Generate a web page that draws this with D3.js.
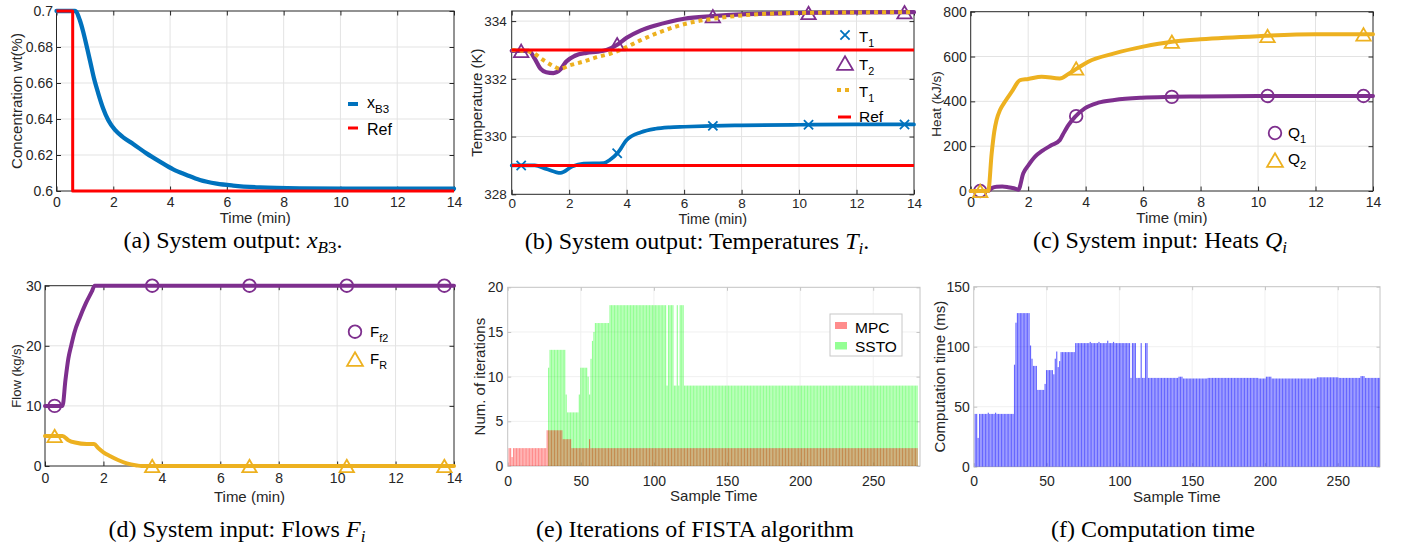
<!DOCTYPE html>
<html><head><meta charset="utf-8">
<script src="https://cdn.jsdelivr.net/npm/d3@7"></script>
<style>
body{margin:0;background:#fff}
svg{display:block}
text{font-family:"Liberation Sans",Arial,Helvetica,sans-serif}
.cap{font-family:"Liberation Serif","Times New Roman",serif;fill:#000}
</style>
</head><body>
<svg id="c" width="1407" height="548"></svg>
<script>
// ---------------- DATA ----------------
const timeTicks = [0, 2, 4, 6, 8, 10, 12, 14];
const timeTickLabels = ["0", "2", "4", "6", "8", "10", "12", "14"];
const markerTimes = [0.33, 3.67, 7.0, 10.33, 13.67];

// (a) concentration
const concTicks = [0.6, 0.62, 0.64, 0.66, 0.68, 0.7];
const concTickLabels = ["0.6", "0.62", "0.64", "0.66", "0.68", "0.7"];
const xB3Time   = [0, 0.65, 0.82, 0.94, 1.08, 1.2, 1.32, 1.47, 1.64, 1.82, 2.06, 2.35, 2.7, 3.17, 3.64, 4.11, 4.58, 5.05, 5.64, 6.22, 7.16, 8.57, 10.9, 14];
const xB3Values = [0.7, 0.7, 0.695, 0.6885, 0.6793, 0.671, 0.6626, 0.6543, 0.646, 0.6394, 0.6339, 0.6298, 0.6261, 0.6209, 0.6163, 0.612, 0.6089, 0.6061, 0.6041, 0.603, 0.602, 0.6015, 0.6013, 0.6013];
const refATime   = [0, 0.57, 0.57, 14];
const refAValues = [0.7, 0.7, 0.6, 0.6];

// (b) temperatures
const tempTicks = [328, 330, 332, 334];
const tempTickLabels = ["328", "330", "332", "334"];
const t1Time   = [0, 0.8, 1.2, 1.7, 2.1, 2.5, 3.2, 3.4, 3.7, 4.0, 4.5, 5.0, 5.5, 6, 7, 8, 10, 12, 14];
const t1Values = [329.0, 329.0, 328.88, 328.74, 328.96, 329.06, 329.08, 329.18, 329.45, 329.88, 330.15, 330.27, 330.32, 330.34, 330.37, 330.39, 330.41, 330.42, 330.42];
const t1Markers = [329.0, 329.42, 330.37, 330.41, 330.42];
const t2Time   = [0, 0.6, 0.8, 1.0, 1.2, 1.45, 1.7, 1.9, 2.2, 2.6, 3.0, 3.3, 3.7, 4.0, 4.5, 5.0, 5.5, 6.0, 7.0, 8.0, 10, 12, 14];
const t2Values = [332.97, 332.97, 332.7, 332.35, 332.23, 332.2, 332.33, 332.6, 332.8, 332.9, 332.94, 333.0, 333.2, 333.42, 333.68, 333.85, 333.98, 334.08, 334.17, 334.23, 334.28, 334.3, 334.31];
const t2Markers = [332.97, 333.2, 334.17, 334.28, 334.31];
const t3Time   = [0, 0.64, 1.1, 1.45, 1.68, 2.03, 2.5, 2.96, 3.42, 3.89, 4.47, 5.16, 5.74, 6.32, 7.0, 8.06, 9.8, 12, 14];
const t3Values = [333.0, 332.94, 332.65, 332.44, 332.35, 332.47, 332.6, 332.75, 332.87, 333.05, 333.33, 333.62, 333.82, 333.97, 334.08, 334.2, 334.28, 334.3, 334.31];
const refB1Time = [0, 14], refB1Values = [333, 333];
const refB2Time = [0, 14], refB2Values = [329, 329];

// (c) heats
const heatTicks = [0, 200, 400, 600, 800];
const heatTickLabels = ["0", "200", "400", "600", "800"];
const q1Time   = [0, 0.6, 0.75, 0.9, 1.1, 1.3, 1.5, 1.66, 1.83, 2.0, 2.24, 2.5, 2.82, 3.1, 3.2, 3.4, 3.63, 3.97, 4.44, 5.0, 5.95, 7.0, 8, 10, 12, 14];
const q1Values = [0, 0, 14, 19, 20, 17, 12, 6, 79, 113, 153, 180, 205, 227, 250, 294, 331, 369, 394, 406, 416, 420, 422, 424, 424, 424];
const q1Markers = [0, 334, 420, 424, 424];
const q2Time   = [0, 0.61, 0.73, 0.82, 0.9, 1.02, 1.19, 1.43, 1.72, 2.0, 2.47, 3.1, 3.4, 3.7, 4.09, 5.0, 6.0, 7.0, 8.0, 10, 12, 14];
const q2Values = [0, 0, 168, 265, 317, 361, 398, 443, 495, 500, 510, 502, 522, 547, 577, 614, 644, 666, 677, 691, 699, 699];
const q2Markers = [0, 547, 666, 692, 699];

// (d) flows
const flowTicks = [0, 10, 20, 30];
const flowTickLabels = ["0", "10", "20", "30"];
const ff2Time   = [0, 0.6, 0.7, 0.8, 0.9, 1.0, 1.2, 1.4, 1.6, 1.7, 14];
const ff2Values = [10, 10, 14.3, 17.9, 20.1, 22.1, 24.8, 27.1, 29.0, 30, 30];
const ff2Markers = [10, 30, 30, 30, 30];
const frTime   = [0, 0.6, 0.8, 1.03, 1.43, 1.68, 1.83, 2.0, 2.22, 2.5, 2.8, 3.14, 3.3, 14];
const frValues = [5, 5, 4.3, 3.9, 3.66, 3.66, 2.94, 2.27, 1.66, 1.0, 0.44, 0.1, 0, 0];
const frMarkers = [5, 0, 0, 0, 0];

// (e) iterations per sample (run-length: [value, count]), samples 1..280
const sampleTicks = [0, 50, 100, 150, 200, 250];
const sampleTickLabels = ["0", "50", "100", "150", "200", "250"];
const iterTicks = [0, 5, 10, 15, 20];
const iterTickLabels = ["0", "5", "10", "15", "20"];
const mpcRuns = [[2,2],[1,1],[2,23],[4,11],[3,6],[2,12],[3,1],[2,224]];
const sstoRuns = [[0,27],[11,1],[13,11],[8,1],[6,8],[8,1],[11,5],[10,1],[8,1],[12,1],[14,1],[15,1],[16,10],[18,39],[9,1],[18,4],[9,2],[18,1],[9,1],[18,3],[9,160]];

// (f) computation time (ms), run-length
const compTicks = [0, 50, 100, 150];
const compTickLabels = ["0", "50", "100", "150"];
const compRuns = [[44,2],[24,1],[44,6],[45,1],[44,4],[45,1],[44,12],[85,1],[120,1],[128,9],[101,1],[90,1],[84,3],[64,5],[69,1],[80.5,5],[77,1],[90,1],[96,1],[83,1],[88,1],[95.5,10],
  [103,10],[104,1],[103,5],[104,1],[103,5],[105,1],[103,3],[104,1],[103,11],[74,1],[103,3],[74,3],[103,1],[74,2],[103,2],
  [74,21],[75,3],[73.5,17],[74,35],[73.5,5],[75,4],[73.5,31],[74.5,15],[74,15],[75.5,3],[74,12]];

// ---------------- DRAWING ----------------
const C_BLUE = "#0072BD", C_RED = "#FF0000", C_PURPLE = "#7E2F8E", C_YELLOW = "#EDB120";
const svg = d3.select("#c");

function expand(runs) { const out = []; runs.forEach(([v, n]) => { for (let k = 0; k < n; k++) out.push(v); }); return out; }

function panel(o) {
  const g = svg.append("g");
  const x = d3.scaleLinear().domain(o.xDomain).range([o.left, o.right]);
  const y = d3.scaleLinear().domain(o.yDomain).range([o.bottom, o.top]);
  g.append("g").selectAll("line").data(o.xTicks.filter(d => x(d) > o.left + 1 && x(d) < o.right - 1)).join("line")
    .attr("x1", d => x(d)).attr("x2", d => x(d)).attr("y1", o.top).attr("y2", o.bottom)
    .attr("stroke", o.gridColor).attr("stroke-width", 1);
  g.append("g").selectAll("line").data(o.yTicks.filter(d => y(d) > o.top + 1 && y(d) < o.bottom - 1)).join("line")
    .attr("y1", d => y(d)).attr("y2", d => y(d)).attr("x1", o.left).attr("x2", o.right)
    .attr("stroke", o.gridColor).attr("stroke-width", 1);
  const fs = o.tickFont, tl = o.tickLen;
  const font = "'Liberation Sans', Arial, sans-serif";
  const style = sel => { sel.attr("font-size", fs).attr("font-family", font).attr("color", o.axisColor);
    sel.select(".domain").remove(); sel.selectAll("text").attr("fill", "#262626"); };
  g.append("g").attr("transform", `translate(0,${o.bottom})`)
    .call(d3.axisBottom(x).tickValues(o.xTicks).tickFormat((d, i) => o.xTickLabels[i]).tickSizeInner(-tl).tickSizeOuter(0).tickPadding(o.xTickBase - o.bottom - 0.71 * fs)).call(style);
  g.append("g").attr("transform", `translate(${o.left},0)`)
    .call(d3.axisLeft(y).tickValues(o.yTicks).tickFormat((d, i) => o.yTickLabels[i]).tickSizeInner(-tl).tickSizeOuter(0).tickPadding(o.yPad)).call(style);
  g.append("g").attr("transform", `translate(0,${o.top})`)
    .call(d3.axisTop(x).tickValues(o.xTicks).tickFormat(() => "").tickSizeInner(-tl).tickSizeOuter(0)).call(style);
  g.append("g").attr("transform", `translate(${o.right},0)`)
    .call(d3.axisRight(y).tickValues(o.yTicks).tickFormat(() => "").tickSizeInner(-tl).tickSizeOuter(0)).call(style);
  g.append("rect").attr("x", o.left).attr("y", o.top).attr("width", o.right - o.left).attr("height", o.bottom - o.top)
    .attr("fill", "none").attr("stroke", o.axisColor).attr("stroke-width", 1);
  g.append("text").attr("x", (o.left + o.right) / 2).attr("y", o.xLabelBase).attr("text-anchor", "middle")
    .attr("font-size", o.xLabelFont || o.labelFont).attr("fill", "#262626").text(o.xLabel);
  g.append("text").attr("transform", `translate(${o.yLabelX},${o.yLabelY !== undefined ? o.yLabelY : (o.top + o.bottom) / 2}) rotate(-90)`)
    .attr("text-anchor", "middle").attr("dominant-baseline", "central")
    .attr("font-size", o.yLabelFont || o.labelFont).attr("fill", "#262626").text(o.yLabel);
  return { g, x, y };
}

function linePath(p, t, v, color, width, curve, dash) {
  const idx = d3.range(t.length);
  const path = p.g.append("path").datum(idx)
    .attr("d", d3.line().x(i => p.x(t[i])).y(i => p.y(v[i])).curve(curve || d3.curveMonotoneX))
    .attr("fill", "none").attr("stroke", color).attr("stroke-width", width).attr("stroke-linejoin", "round");
  if (dash) path.attr("stroke-dasharray", dash); else path.attr("stroke-linecap", "round");
  return path;
}

function marker(g, kind, cx, cy, color, s) {
  s = s || 1;
  if (kind === "circle") {
    g.append("circle").attr("cx", cx).attr("cy", cy).attr("r", 6.3 * s).attr("fill", "none").attr("stroke", color).attr("stroke-width", 1.8);
  } else if (kind === "tri") {
    const w = 7.2 * s, h = 6.2 * s;
    g.append("path").attr("d", `M${cx},${cy - h}L${cx + w},${cy + h}L${cx - w},${cy + h}Z`)
      .attr("fill", "none").attr("stroke", color).attr("stroke-width", 1.8).attr("stroke-linejoin", "miter");
  } else if (kind === "x") {
    const r = 4.6 * s;
    g.append("path").attr("d", `M${cx - r},${cy - r}L${cx + r},${cy + r}M${cx - r},${cy + r}L${cx + r},${cy - r}`)
      .attr("fill", "none").attr("stroke", color).attr("stroke-width", 1.8);
  }
}
function markers(p, kind, times, vals, color) {
  times.forEach((t, i) => marker(p.g, kind, p.x(t), p.y(vals[i]), color));
}

function legText(g, x, y, main, sub, fs, subDy) {
  const t = g.append("text").attr("x", x).attr("y", y).attr("font-size", fs).attr("fill", "#000");
  t.append("tspan").text(main);
  if (sub) t.append("tspan").attr("dy", subDy || fs * 0.35).attr("font-size", fs * 0.72).text(sub);
}

const common = { gridColor: "#e3e3e3", axisColor: "#262626", tickLen: 4.5 };

// ---- (a)
const pA = panel(Object.assign({}, common, {
  left: 56.5, right: 454, top: 11, bottom: 191, xDomain: [0, 14], yDomain: [0.6, 0.7],
  xTicks: timeTicks, xTickLabels: timeTickLabels, yTicks: concTicks, yTickLabels: concTickLabels,
  tickFont: 14, labelFont: 15, xTickBase: 207, xLabelBase: 223, yPad: 3.5, yLabelX: 16,
  xLabel: "Time (min)", yLabel: "Concentration wt(%)"
}));
linePath(pA, xB3Time, xB3Values, C_BLUE, 4.3);
linePath(pA, refATime, refAValues, C_RED, 3, d3.curveLinear).attr("stroke-linecap", "butt");
pA.g.append("line").attr("x1", 348).attr("x2", 358).attr("y1", 104).attr("y2", 104).attr("stroke", C_BLUE).attr("stroke-width", 4);
legText(pA.g, 367, 108, "x", "B3", 16, 5);
pA.g.append("line").attr("x1", 348).attr("x2", 358).attr("y1", 128).attr("y2", 128).attr("stroke", C_RED).attr("stroke-width", 3);
legText(pA.g, 367, 134.5, "Ref", null, 16);

// ---- (b)
const pB = panel(Object.assign({}, common, {
  left: 511.7, right: 914, top: 11, bottom: 194.3, xDomain: [0, 14], yDomain: [328, 334.35],
  xTicks: timeTicks, xTickLabels: timeTickLabels, yTicks: tempTicks, yTickLabels: tempTickLabels,
  tickFont: 13.5, labelFont: 15, xLabelFont: 14.5, xTickBase: 208, xLabelBase: 224, yPad: 5, yLabelX: 476,
  xLabel: "Time (min)", yLabel: "Temperature (K)"
}));
linePath(pB, t1Time, t1Values, C_BLUE, 3.7);
markers(pB, "x", markerTimes, t1Markers, C_BLUE);
linePath(pB, t2Time, t2Values, C_PURPLE, 4.2);
markers(pB, "tri", markerTimes, t2Markers, C_PURPLE);
linePath(pB, t3Time, t3Values, C_YELLOW, 4, d3.curveMonotoneX, "4,4");
linePath(pB, refB1Time, refB1Values, C_RED, 3, d3.curveLinear).attr("stroke-linecap", "butt");
linePath(pB, refB2Time, refB2Values, C_RED, 3, d3.curveLinear).attr("stroke-linecap", "butt");
marker(pB.g, "x", 845, 35, C_BLUE);
legText(pB.g, 859, 42, "T", "1", 15, 5);
marker(pB.g, "tri", 845, 63, C_PURPLE, 1.1);
legText(pB.g, 859, 70, "T", "2", 15, 5);
pB.g.append("line").attr("x1", 837).attr("x2", 853).attr("y1", 90).attr("y2", 90).attr("stroke", C_YELLOW).attr("stroke-width", 4).attr("stroke-dasharray", "4,4");
legText(pB.g, 859, 97, "T", "1", 15, 5);
pB.g.append("line").attr("x1", 838).attr("x2", 851).attr("y1", 117).attr("y2", 117).attr("stroke", C_RED).attr("stroke-width", 3);
legText(pB.g, 859, 122, "Ref", null, 15.5);

// ---- (c)
const pC = panel(Object.assign({}, common, {
  left: 970.7, right: 1373, top: 11.7, bottom: 191, xDomain: [0, 14], yDomain: [0, 800],
  xTicks: timeTicks, xTickLabels: timeTickLabels, yTicks: heatTicks, yTickLabels: heatTickLabels,
  tickFont: 14, labelFont: 15, yLabelFont: 13.5, xTickBase: 207, xLabelBase: 223, yPad: 4, yLabelX: 936, yLabelY: 104,
  xLabel: "Time (min)", yLabel: "Heat (kJ/s)"
}));
linePath(pC, q1Time, q1Values, C_PURPLE, 4);
markers(pC, "circle", markerTimes, q1Markers, C_PURPLE);
linePath(pC, q2Time, q2Values, C_YELLOW, 4);
markers(pC, "tri", markerTimes, q2Markers, C_YELLOW);
marker(pC.g, "circle", 1275, 133, C_PURPLE);
legText(pC.g, 1288, 137.5, "Q", "1", 15.5, 5);
marker(pC.g, "tri", 1275, 160, C_YELLOW, 1.1);
legText(pC.g, 1288, 164, "Q", "2", 15.5, 5);

// ---- (d)
const pD = panel(Object.assign({}, common, {
  left: 45, right: 454, top: 285.7, bottom: 466, xDomain: [0, 14], yDomain: [0, 30],
  xTicks: timeTicks, xTickLabels: timeTickLabels, yTicks: flowTicks, yTickLabels: flowTickLabels,
  tickFont: 14, labelFont: 15, yLabelFont: 13, xTickBase: 483, xLabelBase: 502, yPad: 3.5, yLabelX: 16,
  xLabel: "Time (min)", yLabel: "Flow (kg/s)"
}));
linePath(pD, ff2Time, ff2Values, C_PURPLE, 4);
markers(pD, "circle", markerTimes, ff2Markers, C_PURPLE);
linePath(pD, frTime, frValues, C_YELLOW, 4);
markers(pD, "tri", markerTimes, frMarkers, C_YELLOW);
marker(pD.g, "circle", 355, 331.7, C_PURPLE);
legText(pD.g, 370, 337, "F", "f2", 15, 5);
marker(pD.g, "tri", 355, 359, C_YELLOW, 1.1);
legText(pD.g, 370, 364, "F", "R", 15, 5);

// ---- (e)
const soft = { gridColor: "#f0f0f0", axisColor: "#c4c4c4", tickLen: 3.5 };
const pE = panel(Object.assign({}, soft, {
  left: 507.7, right: 920, top: 287.3, bottom: 466, xDomain: [0, 282], yDomain: [0, 20],
  xTicks: sampleTicks, xTickLabels: sampleTickLabels, yTicks: iterTicks, yTickLabels: iterTickLabels,
  tickFont: 14, labelFont: 15, xTickBase: 486, xLabelBase: 501, yPad: 4.4, yLabelX: 479,
  xLabel: "Sample Time", yLabel: "Num. of iterations"
}));
const sstoVals = expand(sstoRuns), mpcVals = expand(mpcRuns);
const bw = 0.8;
pE.g.append("g").selectAll("rect").data(sstoVals.map((v, i) => [i + 1, v]).filter(d => d[1] > 0)).join("rect")
  .attr("x", d => pE.x(d[0] - bw / 2)).attr("width", pE.x(bw) - pE.x(0))
  .attr("y", d => pE.y(d[1])).attr("height", d => pE.y(0) - pE.y(d[1]))
  .attr("fill", "#00ff00").attr("fill-opacity", 0.42);
pE.g.append("g").selectAll("rect").data(mpcVals.map((v, i) => [i + 1, v])).join("rect")
  .attr("x", d => pE.x(d[0] - bw / 2)).attr("width", pE.x(bw) - pE.x(0))
  .attr("y", d => pE.y(d[1])).attr("height", d => pE.y(0) - pE.y(d[1]))
  .attr("fill", "#ff0000").attr("fill-opacity", 0.45);
pE.g.append("rect").attr("x", 830).attr("y", 314).attr("width", 72).attr("height", 42).attr("fill", "#fff").attr("stroke", "#c8c8c8");
pE.g.append("rect").attr("x", 835).attr("y", 322).attr("width", 12).attr("height", 7).attr("fill", "#ff0000").attr("fill-opacity", 0.45);
pE.g.append("rect").attr("x", 835).attr("y", 342).attr("width", 12).attr("height", 7.5).attr("fill", "#00ff00").attr("fill-opacity", 0.42);
legText(pE.g, 855, 332.5, "MPC", null, 15.5);
legText(pE.g, 855, 352, "SSTO", null, 15.5);

// ---- (f)
const pF = panel(Object.assign({}, soft, {
  left: 973.75, right: 1380, top: 286.7, bottom: 466.7, xDomain: [0, 279], yDomain: [0, 150],
  xTicks: sampleTicks, xTickLabels: sampleTickLabels, yTicks: compTicks, yTickLabels: compTickLabels,
  tickFont: 14, labelFont: 15, xTickBase: 486, xLabelBase: 502, yPad: 4, yLabelX: 939,
  xLabel: "Sample Time", yLabel: "Computation time (ms)"
}));
const compVals = expand(compRuns);
svg.append("clipPath").attr("id", "clipF").append("rect").attr("x", 973.75).attr("y", 280).attr("width", 1380 - 973.75).attr("height", 190);
pF.g.append("g").attr("clip-path", "url(#clipF)").selectAll("rect").data(compVals.map((v, i) => [i + 1, v])).join("rect")
  .attr("x", d => pF.x(d[0] - bw / 2)).attr("width", pF.x(bw) - pF.x(0))
  .attr("y", d => pF.y(d[1])).attr("height", d => pF.y(0) - pF.y(d[1]))
  .attr("fill", "#0000ff").attr("fill-opacity", 0.6);

// ---------------- CAPTIONS ----------------
function caption(cx, y, parts) {
  const t = svg.append("text").attr("class", "cap").attr("x", cx).attr("y", y).attr("text-anchor", "middle").attr("font-size", 24);
  let shift = 0;
  parts.forEach(p => {
    const s = t.append("tspan").text(p.t);
    if (p.i) s.attr("font-style", "italic");
    const want = p.sub ? 5 : 0;
    if (want !== shift) { s.attr("dy", want - shift); shift = want; }
    if (p.sub) s.attr("font-size", 17);
  });
}
caption(233, 248, [{ t: "(a) System output: " }, { t: "x", i: true }, { t: "B", i: true, sub: true }, { t: "3", sub: true }, { t: "." }]);
caption(697, 249, [{ t: "(b) System output: Temperatures " }, { t: "T", i: true }, { t: "i", i: true, sub: true }, { t: "." }]);
caption(1160, 248, [{ t: "(c) System input: Heats " }, { t: "Q", i: true }, { t: "i", i: true, sub: true }]);
caption(237, 537, [{ t: "(d) System input: Flows " }, { t: "F", i: true }, { t: "i", i: true, sub: true }]);
caption(695, 537, [{ t: "(e) Iterations of FISTA algorithm" }]);
caption(1153, 537, [{ t: "(f) Computation time" }]);
</script>
</body></html>
